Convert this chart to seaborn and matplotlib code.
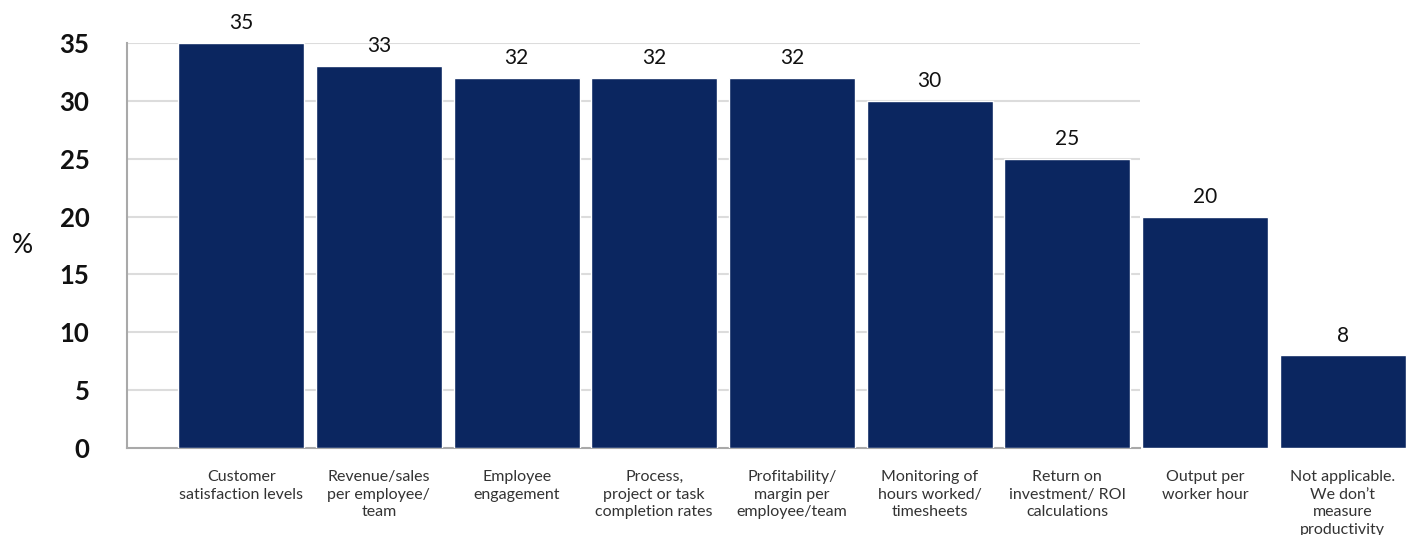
import matplotlib
matplotlib.use("Agg")
import matplotlib.pyplot as plt
import seaborn as sns
import pandas as pd

categories = [
    "Customer\nsatisfaction levels",
    "Revenue/sales\nper employee/\nteam",
    "Employee\nengagement",
    "Process,\nproject or task\ncompletion rates",
    "Profitability/\nmargin per\nemployee/team",
    "Monitoring of\nhours worked/\ntimesheets",
    "Return on\ninvestment/ ROI\ncalculations",
    "Output per\nworker hour",
    "Not applicable.\nWe don\u2019t\nmeasure\nproductivity",
]
values = [35, 33, 32, 32, 32, 30, 25, 20, 8]
y_ticks = [0, 5, 10, 15, 20, 25, 30, 35]

BAR = "#0b2660"
GRID = "#dcdcdc"
SPINE = "#a9a9a9"

sns.set_theme(style="white")
plt.rcParams["font.family"] = ["Lato", "DejaVu Sans"]

df = pd.DataFrame({"measure": categories, "pct": values})

fig = plt.figure(figsize=(14.1, 5.35), dpi=100)
ax = fig.add_axes([127 / 1410, 1 - 448 / 535, 1 - 127 / 1410, (448 - 43) / 535])

sns.barplot(data=df, x="measure", y="pct", color=BAR, saturation=1,
            width=0.915, ax=ax, zorder=3)

ax.set_xlim(-0.83, 8.49)
ax.set_ylim(0, 35)
ax.set_yticks(y_ticks)
ax.set_yticklabels([str(t) for t in y_ticks], fontsize=18.5, fontweight="bold",
                   color="#111111")
ax.tick_params(axis="y", length=0, pad=27)
ax.tick_params(axis="x", length=0, pad=16, labelsize=11.5, labelcolor="#333333")
for lab in ax.get_xticklabels():
    lab.set_linespacing(1.33)

# horizontal guides stop after the seventh bar
grid_end = 6.53
ax.hlines(y_ticks[1:], -0.83, grid_end, colors=GRID, linewidth=1.5, zorder=1)

for side in ("top", "right"):
    ax.spines[side].set_visible(False)
ax.spines["left"].set_color(SPINE)
ax.spines["left"].set_linewidth(1.5)
ax.spines["bottom"].set_color(SPINE)
ax.spines["bottom"].set_linewidth(1.5)
ax.spines["bottom"].set_bounds(-0.83, grid_end)

for c in ax.containers:
    labels = ax.bar_label(c, labels=[str(v) for v in values], padding=7,
                          fontsize=15, color="#111111")
    for t in labels:
        t.set_clip_on(False)

ax.set_xlabel("")
ax.set_ylabel("%", rotation=0, fontsize=19, color="#111111", labelpad=0,
              va="center", ha="center")
ax.yaxis.set_label_coords(-(127 - 22) / 1283, 0.5)

fig.savefig("out.png", dpi=100)
